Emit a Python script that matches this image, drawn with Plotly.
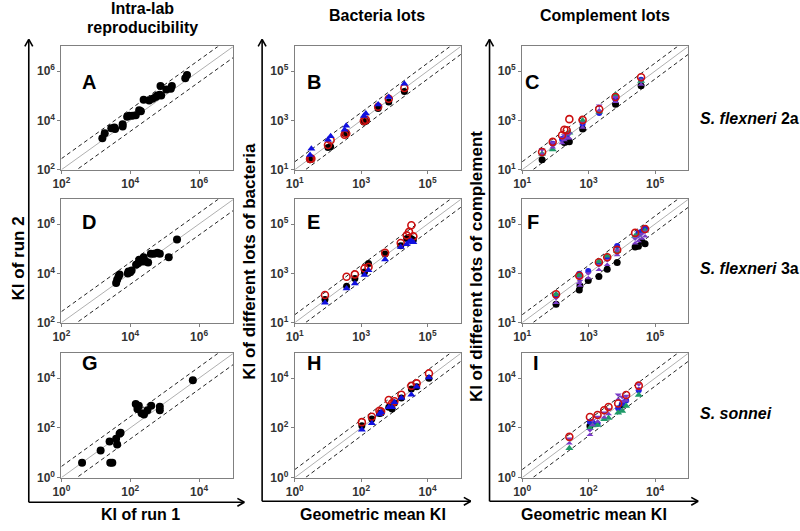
import plotly.graph_objects as go

W, H = 800, 531
FONT = "Arial, Liberation Sans, sans-serif"

# ---- data: log10(KI) ----
# A-C: S. flexneri 2a, D-F: S. flexneri 3a, G-I: S. sonnei
a_run1 = [3.19, 3.26, 3.45, 3.54, 3.56, 3.78, 3.78, 3.91, 3.97, 4.06, 4.16, 4.26, 4.31,
          4.39, 4.55, 4.65, 4.74, 4.79, 4.86, 4.88, 4.90, 5.05, 5.18, 5.21, 5.60, 5.65]
a_run2 = [3.28, 3.48, 3.68, 3.71, 3.65, 3.75, 3.84, 4.15, 4.19, 4.19, 4.21, 4.41, 4.37,
          4.84, 4.81, 4.88, 4.95, 5.01, 5.04, 5.39, 5.01, 5.25, 5.28, 5.39, 5.71, 5.84]

d_run1 = [3.59, 3.62, 3.66, 3.69, 3.93, 3.95, 4.00, 4.04, 4.17, 4.23, 4.26, 4.36, 4.39,
          4.45, 4.52, 4.60, 4.69, 4.79, 4.86, 5.12, 5.36]
d_run2 = [3.61, 3.74, 3.87, 3.95, 3.99, 4.08, 4.04, 4.12, 4.35, 4.41, 4.55, 4.48, 4.65,
          4.48, 4.44, 4.79, 4.79, 4.84, 4.79, 4.65, 5.37]

g_run1 = [0.60, 1.14, 1.40, 1.42, 1.48, 1.59, 1.62, 1.69, 1.72, 2.16, 2.21, 2.25, 2.33,
          2.40, 2.50, 2.61, 2.86, 2.86, 3.82]
g_run2 = [0.60, 1.09, 1.45, 0.60, 0.60, 1.56, 1.33, 1.76, 1.80, 2.96, 2.76, 2.89, 2.59,
          2.54, 2.71, 2.89, 2.85, 2.71, 3.92]

# bacteria lots
b_gm = [1.46, 1.50, 2.00, 2.08, 2.50, 2.55, 3.08, 3.14, 3.51, 3.83, 4.30]
b_lot1 = [1.40, 1.42, 1.90, 1.93, 2.47, 2.50, 2.93, 2.97, 3.48, 3.75, 4.17]
b_lot2 = [1.44, 1.45, 2.00, 2.20, 2.42, 2.47, 2.98, 3.02, 3.55, 3.88, 4.31]
b_lot3 = [1.60, 1.85, 2.22, 2.36, 2.62, 2.78, 3.18, 3.28, 3.64, 3.95, 4.49]

e_gm = [1.91, 2.56, 2.81, 3.10, 3.22, 3.72, 4.19, 4.37, 4.44, 4.51, 4.57]
e_lot1 = [1.94, 2.48, 2.79, 3.05, 3.40, 3.78, 4.12, 4.41, 4.45, 4.40, 4.35]
e_lot2 = [2.12, 2.86, 2.96, 3.20, 3.26, 3.83, 4.23, 4.54, 4.68, 4.95, 4.50]
e_lot3 = [1.81, 2.39, 2.59, 2.93, 3.13, 3.56, 4.07, 4.18, 4.27, 4.32, 4.26]

h_gm = [2.02, 2.32, 2.55, 2.60, 2.83, 2.93, 3.00, 3.21, 3.51, 3.67, 4.04]
h_lot1 = [2.09, 2.36, 2.58, 2.60, 2.83, 2.76, 3.00, 3.20, 3.56, 3.65, 4.00]
h_lot2 = [2.23, 2.45, 2.69, 2.66, 3.12, 2.99, 3.07, 3.33, 3.69, 3.79, 4.19]
h_lot3 = [1.92, 2.19, 2.56, 2.63, 2.83, 2.83, 3.03, 3.20, 3.33, 3.65, 4.03]

# complement lots
c_gm = [1.60, 1.92, 2.20, 2.27, 2.34, 2.42, 2.82, 3.32, 3.81, 4.58]
c_lot1 = [1.40, None, None, 2.10, 2.13, 2.13, 2.65, None, 3.65, 4.40]
c_lot2 = [1.72, 2.13, 2.40, 2.62, 2.60, 3.05, 3.02, 3.45, 3.95, 4.75]
c_lot3 = [None, 2.05, 2.25, None, 2.34, None, 2.85, 3.30, 3.85, 4.65]
c_lot4 = [1.65, 1.82, None, None, 2.45, 2.50, 3.00, 3.35, 4.05, 4.60]
c_lot5 = [1.72, 2.00, 2.17, 2.30, 2.38, 2.37, 2.80, 3.50, 3.85, 4.55]

f_gm = [2.02, 2.72, 2.74, 2.99, 3.31, 3.56, 3.86, 4.40, 4.50, 4.60, 4.70]
f_lot1 = [1.75, 2.33, 2.50, 2.71, 2.87, 3.17, 3.44, 4.07, 4.10, 4.30, 4.20]
f_lot2 = [2.15, 2.90, None, None, 3.45, 3.65, 3.95, 4.64, None, None, 4.80]
f_lot3 = [2.10, 2.98, None, 3.10, 3.40, 3.60, 4.11, None, 4.65, 4.70, 4.84]
f_lot4 = [2.15, 2.92, None, None, 3.48, 3.71, 3.90, 4.51, 4.55, None, 4.73]
f_lot5 = [1.90, 2.71, 2.60, 2.90, 3.24, 3.44, 3.84, 4.31, 4.40, 4.50, 4.60]

i_gm = [1.42, 2.04, 2.12, 2.27, 2.47, 2.60, 2.89, 3.01, 3.13, 3.51]
i_lot1 = [None, 2.08, None, None, None, None, None, 2.92, None, None]
i_lot2 = [1.64, 2.44, None, 2.52, 2.71, 2.84, 2.98, None, 3.32, 3.70]
i_lot3 = [None, 2.25, 2.21, 2.17, None, None, 2.79, 2.98, 3.10, 3.51]
i_lot4 = [1.18, 2.00, 2.10, 2.12, 2.35, 2.40, 2.61, 2.68, 2.88, 3.32]
i_lot5 = [1.47, 1.81, 2.21, 2.35, 2.52, 2.65, 3.24, 3.15, 3.19, 3.65]


def ki(vals):
    return [None if v is None else 10 ** v for v in vals]


styles = {
    "black": dict(symbol="circle", color="black", size=7),
    "black8": dict(symbol="circle", color="black", size=8),
    "red": dict(symbol="circle-open", color="#cc1010", size=7, line=dict(width=1.6, color="#cc1010")),
    "bluetri": dict(symbol="triangle-up", color="#1010e0", size=7),
    "blue": dict(symbol="circle", color="#2020e0", size=6),
    "green": dict(symbol="triangle-up", color="#1e9a68", size=7),
    "purple": dict(symbol="hourglass", color="#7a3cc8", size=7),
}

# letter, row, col, axis range (log10), ticks, fold for dashed lines, series
panels = [
    ("A", 0, 0, (2, 7), [2, 4, 6], 2.8, [(a_run1, a_run2, "black8")]),
    ("B", 0, 1, (1, 6), [1, 3, 5], 2.1, [(b_gm, b_lot1, "black"), (b_gm, b_lot2, "red"), (b_gm, b_lot3, "bluetri")]),
    ("C", 0, 2, (1, 6), [1, 3, 5], 2.1, [(c_gm, c_lot1, "black"), (c_gm, c_lot3, "blue"), (c_gm, c_lot4, "green"),
                                         (c_gm, c_lot5, "purple"), (c_gm, c_lot2, "red")]),
    ("D", 1, 0, (2, 7), [2, 4, 6], 2.8, [(d_run1, d_run2, "black8")]),
    ("E", 1, 1, (1, 6), [1, 3, 5], 2.1, [(e_gm, e_lot1, "black"), (e_gm, e_lot2, "red"), (e_gm, e_lot3, "bluetri")]),
    ("F", 1, 2, (1, 6), [1, 3, 5], 2.1, [(f_gm, f_lot1, "black"), (f_gm, f_lot3, "blue"), (f_gm, f_lot4, "green"),
                                         (f_gm, f_lot5, "purple"), (f_gm, f_lot2, "red")]),
    ("G", 2, 0, (0, 5), [0, 2, 4], 2.8, [(g_run1, g_run2, "black8")]),
    ("H", 2, 1, (0, 5), [0, 2, 4], 2.1, [(h_gm, h_lot1, "black"), (h_gm, h_lot2, "red"), (h_gm, h_lot3, "bluetri")]),
    ("I", 2, 2, (0, 5), [0, 2, 4], 2.1, [(i_gm, i_lot1, "black"), (i_gm, i_lot3, "blue"), (i_gm, i_lot4, "green"),
                                         (i_gm, i_lot5, "purple"), (i_gm, i_lot2, "red")]),
]

cols_px = [(53, 227), (289, 457), (519, 687)]
rows_px = [(47, 172), (202, 327), (358, 484)]


def px(x):
    return x / W


def py(y):
    return 1 - y / H


fig = go.Figure()
annotations = []
shapes = []

for n, (letter, r, c, (lo, hi), ticks, fold, series) in enumerate(panels, start=1):
    xa = "x" if n == 1 else f"x{n}"
    ya = "y" if n == 1 else f"y{n}"
    ends = [10 ** lo, 10 ** hi]
    # identity line and fold-difference lines
    fig.add_trace(go.Scatter(x=ends, y=ends, mode="lines", line=dict(color="#b0b0b0", width=1),
                             xaxis=xa, yaxis=ya, showlegend=False, hoverinfo="skip"))
    for k in (fold, 1 / fold):
        fig.add_trace(go.Scatter(x=ends, y=[e * k for e in ends], mode="lines",
                                 line=dict(color="#222", width=1, dash="4px,3px"),
                                 xaxis=xa, yaxis=ya, showlegend=False, hoverinfo="skip"))
    for xs, ys, st in series:
        fig.add_trace(go.Scatter(x=ki(xs), y=ki(ys), mode="markers", marker=styles[st],
                                 xaxis=xa, yaxis=ya, showlegend=False))

    x0, x1 = cols_px[c]
    y0, y1 = rows_px[r]
    common = dict(type="log", range=[lo, hi], showline=True, linecolor="#808080", linewidth=1,
                  mirror=True, ticks="outside", ticklen=3, tickcolor="#808080",
                  tickvals=[10 ** t for t in ticks],
                  ticktext=[f"<b>10<sup>{t}</sup></b>" for t in ticks],
                  tickfont=dict(size=12, color="#333", family=FONT),
                  showgrid=False, zeroline=False)
    fig.layout[xa.replace("x", "xaxis")] = dict(common, domain=[px(x0), px(x1)], anchor=ya)
    fig.layout[ya.replace("y", "yaxis")] = dict(common, domain=[py(y1), py(y0)], anchor=xa)

    annotations.append(dict(x=px(x0 + 19), y=py(y0 + 23), xref="paper", yref="paper",
                            text=f"<b>{letter}</b>", showarrow=False,
                            font=dict(size=20, color="black", family=FONT)))

# big L-shaped axes with open arrow heads
for xv, ytop, yb, xr in [(20, 40, 509, 238), (256, 40, 508, 467), (486, 40, 508, 697)]:
    for (xa0, ya0, xa1, ya1) in [(xv, yb, xv, ytop), (xv, yb, xr, yb),
                                 (xv - 4, ytop + 7, xv, ytop), (xv + 4, ytop + 7, xv, ytop),
                                 (xr - 7, yb - 4, xr, yb), (xr - 7, yb + 4, xr, yb)]:
        shapes.append(dict(type="line", xref="paper", yref="paper",
                           x0=px(xa0), y0=py(ya0), x1=px(xa1), y1=py(ya1),
                           line=dict(color="black", width=1.6)))

texts = [
    ("<b>Intra-lab</b>", 135, 9, 16, 0),
    ("<b>reproducibility</b>", 135, 28, 16, 0),
    ("<b>Bacteria lots</b>", 372, 16, 16, 0),
    ("<b>Complement lots</b>", 603, 16, 16, 0),
    ("<b>KI of run 1</b>", 133, 521, 16, 0),
    ("<b>Geometric mean KI</b>", 368, 521, 16, 0),
    ("<b>Geometric mean KI</b>", 592, 521, 16, 0),
    ("<b>KI of run 2</b>", 10, 262, 17, -90),
    ("<b>KI of different lots of bacteria</b>", 243, 265, 17, -90),
    ("<b>KI of different lots of complement</b>", 473, 270, 17, -90),
]
for t, x, y, s, ang in texts:
    annotations.append(dict(x=px(x), y=py(y), xref="paper", yref="paper", text=t, showarrow=False,
                            textangle=ang, xanchor="center", yanchor="middle",
                            font=dict(size=s, color="black", family=FONT)))

for t, y in [("<b><i>S. flexneri</i> 2a</b>", 120), ("<b><i>S. flexneri</i> 3a</b>", 272),
             ("<b><i>S. sonnei</i></b>", 419)]:
    annotations.append(dict(x=px(697), y=py(y), xref="paper", yref="paper", text=t, showarrow=False,
                            xanchor="left", yanchor="middle",
                            font=dict(size=16, color="black", family=FONT)))

fig.update_layout(width=W, height=H, margin=dict(l=0, r=0, t=0, b=0),
                  paper_bgcolor="white", plot_bgcolor="white",
                  annotations=annotations, shapes=shapes, showlegend=False,
                  font=dict(family=FONT))

# drop the browser's default page margin so the 800x531 figure sits at (0, 0)
fig.write_html("out.html", config={"displayModeBar": False},
               post_script="document.body.style.margin='0px';")
